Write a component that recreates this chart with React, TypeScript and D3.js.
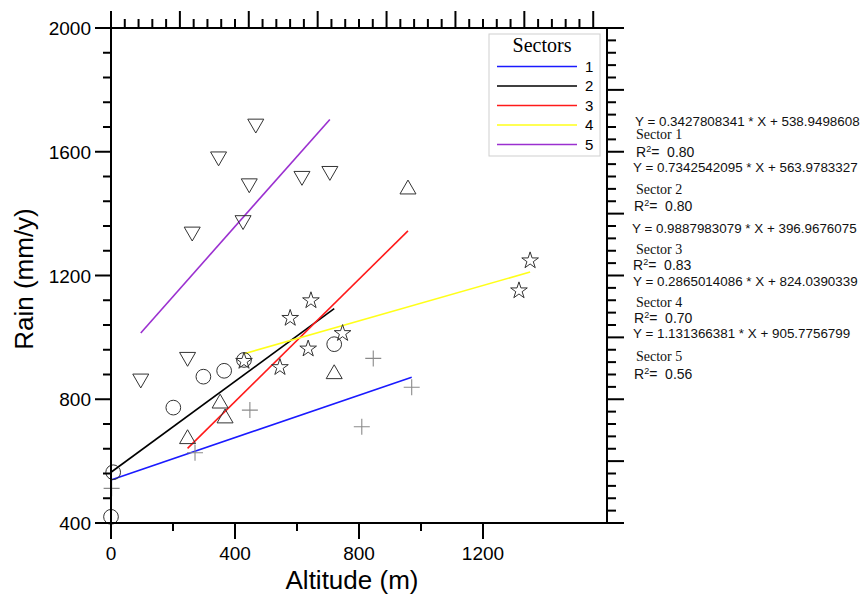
import React from "react";
import * as d3 from "d3";

// scatter values, one pair of arrays per sector
const sectors = ["1", "2", "3", "4", "5"];

const altitude1 = [2, 271, 448, 846, 970, 809];
const rain1 = [512, 627, 765, 932, 839, 711];
const altitude2 = [0, 7, 201, 298, 365, 429, 720];
const rain2 = [420, 564, 773, 873, 892, 927, 978];
const altitude3 = [247, 352, 368, 720, 958];
const rain3 = [679, 794, 746, 889, 1486];
const altitude4 = [429, 545, 578, 636, 645, 747, 1316, 1352];
const rain4 = [925, 905, 1064, 965, 1121, 1015, 1153, 1250];
const altitude5 = [96, 247, 262, 347, 426, 446, 467, 616, 706];
const rain5 = [859, 929, 1334, 1577, 1371, 1490, 1683, 1514, 1530];

// regression fits printed beside the plot
const slopes = [0.3427808341, 0.7342542095, 0.9887983079, 0.2865014086, 1.131366381];
const intercepts = [538.9498608, 563.9783327, 396.9676075, 824.0390339, 905.7756799];
const rSquared = ["0.80", "0.80", "0.83", "0.70", "0.56"];

const xTickLabels = [0, 400, 800, 1200];
const xMinorTicks = [200, 600, 1000];
const yTickLabels = [400, 800, 1200, 1600, 2000];

const lineColors = ["#1a1aff", "#000000", "#ff1a1a", "#ffff1a", "#9b30d0"];
const narrow = "'Liberation Sans Narrow', 'Arial Narrow', 'Liberation Sans', Arial, sans-serif";
const sans = "'Liberation Sans', Arial, sans-serif";
const serif = "'Liberation Serif', 'Times New Roman', serif";

// plus marker drawn with plain strokes
const plusSymbol = {
  draw(ctx, size) {
    const r = Math.sqrt(size) / 2;
    ctx.moveTo(-r, 0);
    ctx.lineTo(r, 0);
    ctx.moveTo(0, -r);
    ctx.lineTo(0, r);
  },
};

export default function App() {
  const width = 866,
    height = 595,
    left = 111,
    right = 607,
    top = 28,
    bottom = 523;

  const x = d3.scaleLinear().domain([0, 1600]).range([left, right]);
  const y = d3.scaleLinear().domain([400, 2000]).range([bottom, top]);
  const xTop = d3.scaleLinear().domain([0, 7.2]).range([left, right]);

  const series = [
    [altitude1, rain1],
    [altitude2, rain2],
    [altitude3, rain3],
    [altitude4, rain4],
    [altitude5, rain5],
  ];

  const symbols = [
    { type: plusSymbol, size: 256, dy: 0, rot: 0 },
    { type: d3.symbolCircle, size: 170, dy: 0, rot: 0 },
    { type: d3.symbolTriangle, size: 111, dy: 2.3, rot: 0 },
    { type: d3.symbolStar, size: 86, dy: 0.6, rot: 0 },
    { type: d3.symbolTriangle, size: 111, dy: -2.3, rot: 180 },
  ];

  const fitLine = d3
    .line()
    .x((d) => x(d[0]))
    .y((d) => y(d[1]));

  const fits = series.map((s, i) => {
    const ext = d3.extent(s[0]);
    const pts = ext.map((v) => [v, slopes[i] * v + intercepts[i]]);
    return (
      <path
        key={"fit-" + i}
        d={fitLine(pts)}
        fill="none"
        stroke={lineColors[i]}
        strokeWidth={1.6}
      />
    );
  });

  const markers = series.map((s, i) => {
    const sym = symbols[i];
    const path = d3.symbol().type(sym.type).size(sym.size)();
    return s[0].map((v, j) => (
      <path
        key={"pt-" + i + "-" + j}
        d={path}
        transform={
          "translate(" + x(v) + "," + (y(s[1][j]) + sym.dy) + ") rotate(" + sym.rot + ")"
        }
        fill="none"
        stroke={i === 0 ? "#8a8a8a" : "#333"}
        strokeWidth={i === 0 ? 1.1 : 1}
      />
    ));
  });

  // tick marks on all four sides
  const tickLines = [];
  d3.range(400, 2001, 80).forEach((v) => {
    const major = (v - 400) % 400 === 0;
    tickLines.push([left - (major ? 16 : 8), y(v), left, y(v)]);
  });
  d3.range(400, 2001, 40).forEach((v) => {
    const major = (v - 400) % 200 === 0;
    tickLines.push([right, y(v), right + (major ? 17 : 9), y(v)]);
  });
  xTickLabels.forEach((v) => tickLines.push([x(v), bottom, x(v), bottom + 16]));
  xMinorTicks.forEach((v) => tickLines.push([x(v), bottom, x(v), bottom + 8]));
  d3.range(0, 36).forEach((k) => {
    const major = k % 5 === 0;
    const xv = xTop(k * 0.2);
    tickLines.push([xv, top, xv, top - (major ? 17 : 9)]);
  });

  const legendTop = 66.5,
    legendStep = 19.5;

  // positions of the three text rows for each equation block
  const eqRows = [
    [635, 125.5, 139, 157],
    [633, 172, 193.5, 210.5],
    [632, 233, 254, 269.5],
    [633, 286, 307, 323],
    [633, 338, 361, 379],
  ];

  return (
    <svg
      width={width}
      height={height}
      style={{ position: "absolute", left: 0, top: 0, background: "#fff" }}
    >
      <rect x={0} y={0} width={width} height={height} fill="#fff" />
      <g>{fits}</g>
      <g>{markers}</g>

      <g stroke="#000" strokeWidth={2}>
        <line x1={left} y1={top} x2={left} y2={bottom} />
        <line x1={right} y1={top} x2={right} y2={bottom} />
        <line x1={left} y1={top} x2={right} y2={top} />
        <line x1={left} y1={bottom} x2={right} y2={bottom} />
        {tickLines.map((t, i) => (
          <line key={"tk-" + i} x1={t[0]} y1={t[1]} x2={t[2]} y2={t[3]} />
        ))}
      </g>

      <g fontFamily={narrow} fontSize={19} fill="#000">
        {yTickLabels.map((v) => (
          <text key={"yl-" + v} x={left - 20} y={y(v) + 7} textAnchor="end">
            {v}
          </text>
        ))}
        {xTickLabels.map((v) => (
          <text key={"xl-" + v} x={x(v)} y={bottom + 37} textAnchor="middle">
            {v}
          </text>
        ))}
      </g>

      <text
        x={352}
        y={589}
        textAnchor="middle"
        fontFamily={sans}
        fontSize={26}
      >
        Altitude (m)
      </text>
      <text
        transform="translate(33,279) rotate(-90)"
        textAnchor="middle"
        fontFamily={sans}
        fontSize={26}
      >
        Rain (mm/y)
      </text>

      <g>
        <rect x={489} y={34} width={111} height={122} fill="#fff" stroke="#cfcfcf" />
        <text x={542} y={52} textAnchor="middle" fontFamily={serif} fontSize={20}>
          Sectors
        </text>
        {sectors.map((s, i) => (
          <g key={"lg-" + s}>
            <line
              x1={497}
              x2={577}
              y1={legendTop + i * legendStep}
              y2={legendTop + i * legendStep}
              stroke={lineColors[i]}
              strokeWidth={1.6}
            />
            <text
              x={585}
              y={legendTop + i * legendStep + 5}
              fontFamily={narrow}
              fontSize={15}
            >
              {s}
            </text>
          </g>
        ))}
      </g>

      <g fill="#111">
        {sectors.map((s, i) => {
          const r = eqRows[i];
          return (
            <g key={"eq-" + s}>
              <text x={r[0]} y={r[1]} fontFamily={sans} fontSize={13.4}>
                {"Y = " + slopes[i] + " * X + " + intercepts[i]}
              </text>
              <text x={636} y={r[2]} fontFamily={serif} fontSize={14}>
                {"Sector " + s}
              </text>
              <text x={r[0] + 1} y={r[3]} fontFamily={sans} fontSize={14}>
                R
                <tspan fontSize={9} dy={-5}>
                  2
                </tspan>
                <tspan dy={5}>{"=\u00a0\u00a0" + rSquared[i]}</tspan>
              </text>
            </g>
          );
        })}
      </g>
    </svg>
  );
}
